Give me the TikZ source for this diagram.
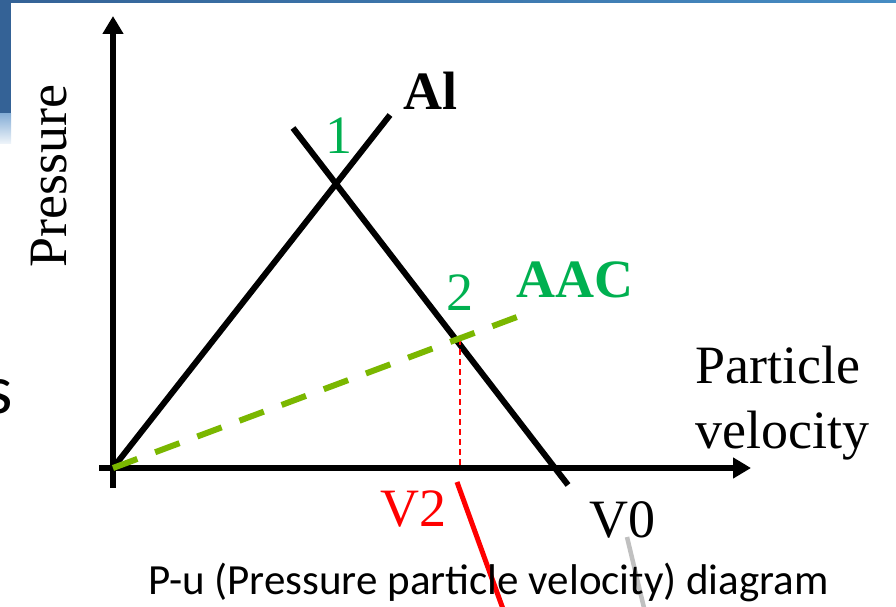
\documentclass[tikz,border=0pt]{standalone}
\usepackage{fontspec}
\setmainfont{Liberation Serif}
\newfontfamily\capfont{Carlito}
\usetikzlibrary{arrows.meta}
\definecolor{lblgreen}{RGB}{0,176,80}
\definecolor{aacline}{RGB}{122,183,0}
\definecolor{bluedark}{RGB}{52,98,150}
\definecolor{bluelight}{RGB}{70,140,195}
\definecolor{bluepale}{RGB}{135,175,215}
\definecolor{greyline}{RGB}{192,192,192}
\tikzset{
  axis/.style={line width=6pt, -{Triangle[width=20pt,length=18pt]}},
  curve/.style={line width=6pt},
  lbl/.style={font=\fontsize{54}{62}\selectfont, inner sep=0pt},
  caption/.style={font=\capfont\fontsize{43}{48}\selectfont, inner sep=0pt},
}
\begin{document}
\begin{tikzpicture}[x=1pt,y=-1pt]
\useasboundingbox (0,0) rectangle (896,607);
\clip (0,0) rectangle (896,607);
% decoration remnants
\shade[left color=bluedark, right color=bluelight] (0,0) rectangle (896,3);
\fill[bluedark] (0,0) rectangle (11,114);
\shade[top color=bluepale, bottom color=white!85!bluepale] (0,114) rectangle (11,143);
\node[font=\capfont\fontsize{70}{70}\selectfont, inner sep=0pt, anchor=base east] (sfrag) at (13,413) {s};
% coordinates
\coordinate (O) at (113,468);
\coordinate (Ybot) at (113,488);
\coordinate (Ytop) at (113,16);
\coordinate (Xbeg) at (99,468);
\coordinate (Xend) at (751,468);
\coordinate (Als) at (113,468);
\coordinate (Ale) at (390,115);
\coordinate (Ss) at (293,128);
\coordinate (Se) at (568,485);
\coordinate (Ge) at (533,311);
\coordinate (P2) at (460,339);
\coordinate (V2top) at (460,468);
\coordinate (Rs) at (457,482);
\coordinate (Re) at (507,620);
\coordinate (Gs) at (627,537);
\coordinate (Gend) at (645,612);
% axes
\draw[axis] (Ybot) -- (Ytop);
\draw[axis] (Xbeg) -- (Xend);
% lines
\draw[curve] (Als) -- (Ale);
\draw[curve] (Ss) -- (Se);
\draw[red, line width=1.3pt, dash pattern=on 6pt off 4pt] (P2) -- (V2top);
\draw[aacline, line width=6pt, dash pattern=on 26pt off 19pt] (O) -- (Ge);
\draw[red, line width=5pt] (Rs) -- (Re);
\draw[greyline, line width=4.5pt] (Gs) -- (Gend);
% labels
\node[lbl, rotate=90, anchor=base west] (press) at (66,268) {Pressure};
\node[lbl, anchor=base west] (pv1) at (695,383) {Particle};
\node[lbl, anchor=base west] (pv2) at (695,448) {velocity};
\node[lbl, font=\fontsize{54}{62}\selectfont\bfseries, anchor=base west] (al) at (403,110) {Al};
\node[lbl, text=lblgreen, anchor=base] (one) at (339,153) {1};
\node[lbl, text=lblgreen, anchor=base] (two) at (460,310) {2};
\node[lbl, text=lblgreen, font=\fontsize{54}{62}\selectfont\bfseries, anchor=base west] (aac) at (516,297) {AAC};
\node[lbl, text=red, anchor=base west] (v2) at (380,526) {V2};
\node[lbl, anchor=base west] (v0) at (589,537) {V0};
\node[caption, anchor=base west] (cap) at (148,594) {P-u (Pressure particle velocity) diagram};
\end{tikzpicture}
\end{document}
